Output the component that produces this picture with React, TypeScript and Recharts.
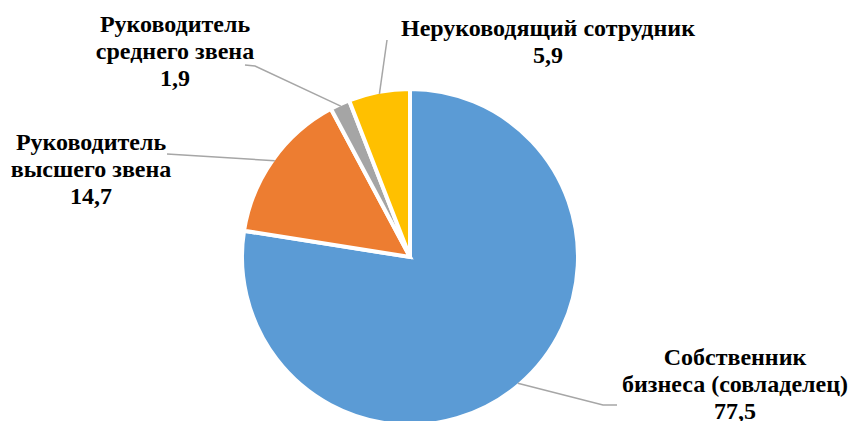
import React from "react";
import { PieChart, Pie, Cell } from "recharts";

const categories = [
  "Собственник бизнеса (совладелец)",
  "Руководитель высшего звена",
  "Руководитель среднего звена",
  "Неруководящий сотрудник",
];
const values = [77.5, 14.7, 1.9, 5.9];
const labelLines = [
  ["Собственник", "бизнеса (совладелец)"],
  ["Руководитель", "высшего звена"],
  ["Руководитель", "среднего звена"],
  ["Неруководящий сотрудник"],
];
const colors = ["#5B9BD5", "#ED7D31", "#A5A5A5", "#FFC000"];

const data = categories.map((name, i) => ({ name, value: values[i], idx: i }));

// label layout: text center x, first baseline y, leader path points (after slice edge)
const labelLayout = [
  { tx: 735, ty: 365, pts: [[603, 405], [617, 405]] },
  { tx: 91, ty: 150, pts: [[167, 154]] },
  { tx: 175, ty: 32, pts: [[255, 66], [245, 65]] },
  { tx: 548, ty: 36, pts: [[387, 40]] },
];

const FONT = "Liberation Serif";
const FS = 24;
const LH = 27;
const RAD = Math.PI / 180;

const renderLabel = (props: any) => {
  const { index, value } = props;
  const lay = labelLayout[index];
  const lines = [...labelLines[index], String(value).replace(".", ",")];
  return (
    <text
      key={`lbl-${index}`}
      x={lay.tx}
      y={lay.ty}
      fontFamily={FONT}
      fontWeight="bold"
      fontSize={FS}
      fill="#000"
    >
      {lines.map((t, i) => (
        <tspan key={i} x={lay.tx} y={lay.ty + i * LH} textAnchor="middle">
          {t}
        </tspan>
      ))}
    </text>
  );
};

const renderLabelLine = (props: any) => {
  const { cx, cy, midAngle, outerRadius, index } = props;
  const r = outerRadius - 2;
  const sx = cx + r * Math.cos(-midAngle * RAD);
  const sy = cy + r * Math.sin(-midAngle * RAD);
  const lay = labelLayout[index];
  const d = `M${sx},${sy}` + lay.pts.map((p) => ` L${p[0]},${p[1]}`).join("");
  return <path key={`ll-${index}`} d={d} stroke="#A6A6A6" strokeWidth={1.5} fill="none" />;
};

export default function App() {
  return (
    <div style={{ position: "absolute", left: 0, top: 0, width: 849, height: 421, background: "#fff" }}>
      <PieChart width={849} height={421} margin={{ top: 0, right: 0, bottom: 0, left: 0 }}>
        <Pie
          data={data}
          dataKey="value"
          nameKey="name"
          cx={410}
          cy={257}
          outerRadius={168}
          startAngle={90}
          endAngle={-270}
          stroke="#fff"
          strokeWidth={4}
          label={renderLabel}
          labelLine={renderLabelLine}
          isAnimationActive={false}
        >
          {data.map((d, i) => (
            <Cell key={i} fill={colors[i]} />
          ))}
        </Pie>
      </PieChart>
    </div>
  );
}
